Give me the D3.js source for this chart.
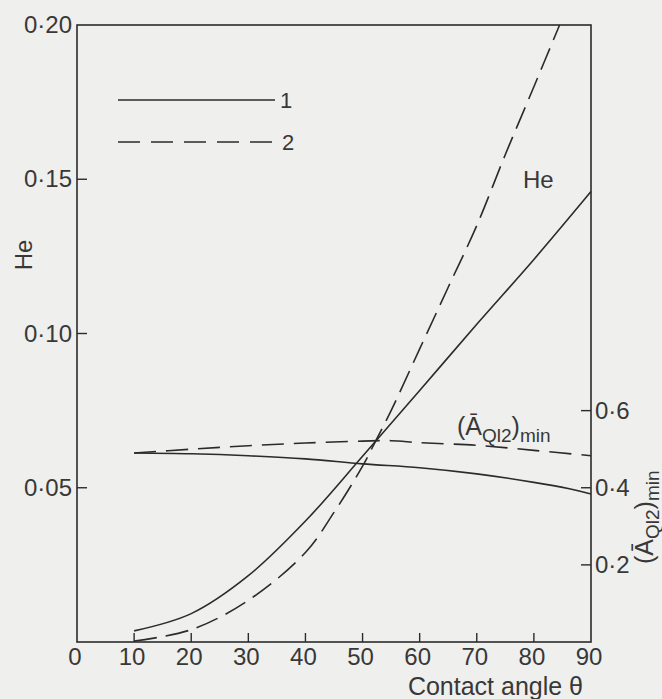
<!DOCTYPE html>
<html><head><meta charset="utf-8">
<script src="https://cdn.jsdelivr.net/npm/d3@7"></script>
<style>
html,body{margin:0;padding:0;background:#efefed;}
svg{display:block;}
text{font-family:"Liberation Sans",Arial,sans-serif;fill:#383838;}
</style></head>
<body>
<script>
// ---- data ----
const xTicks = [10,20,30,40,50,60,70,80];
const xTickLabels = ["0","10","20","30","40","50","60","70","80","90"];
const xLabelValues = [0,10,20,30,40,50,60,70,80,90];
const yLeftTicks = [0.05,0.10,0.15];
const yLeftLabelValues = [0.05,0.10,0.15,0.20];
const yLeftLabels = ["0·05","0·10","0·15","0·20"];
const yRightTicks = [0.2,0.4,0.6];
const yRightLabels = ["0·2","0·4","0·6"];

// He, case 1 (solid)
const heTheta1 = [10,20,30,40,50,60,70,80,90];
const heVal1   = [0.0036,0.0092,0.0215,0.0392,0.0602,0.0815,0.103,0.124,0.146];
// He, case 2 (dashed)
const heTheta2 = [10,20,30,40,45,50,52.2,55,60,65,70,75,80,84.5];
const heVal2   = [0.0003,0.0040,0.0135,0.029,0.042,0.057,0.0648,0.075,0.095,0.115,0.135,0.158,0.180,0.200];
// (A_Ql2)min, case 1 (solid)
const aTheta1 = [10,20,30,40,50,60,70,80,86,90];
const aVal1   = [0.490,0.488,0.483,0.475,0.462,0.452,0.436,0.414,0.398,0.384];
// (A_Ql2)min, case 2 (dashed)
const aTheta2 = [10,20,30,40,50,55,60,70,80,90];
const aVal2   = [0.490,0.500,0.509,0.516,0.521,0.522,0.517,0.510,0.497,0.483];

const W = 662, H = 699;
const svg = d3.select("body").append("svg").attr("width",W).attr("height",H);
const ink = "#2b2b2b";

const x = d3.scaleLinear().domain([0,90]).range([77,591]);
const yL = d3.scaleLinear().domain([0,0.2]).range([642,25]);
const yR = d3.scaleLinear().domain([0,1.6]).range([642,25]);

// frame
svg.append("rect").attr("x",x(0)).attr("y",yL(0.2))
  .attr("width",x(90)-x(0)).attr("height",yL(0)-yL(0.2))
  .attr("fill","none").attr("stroke",ink).attr("stroke-width",1.6);

// bottom ticks (inward)
svg.append("g").selectAll("line").data(xTicks).join("line")
  .attr("x1",d=>x(d)).attr("x2",d=>x(d)).attr("y1",yL(0)).attr("y2",yL(0)-9)
  .attr("stroke",ink).attr("stroke-width",1.4);
svg.append("g").selectAll("text").data(xLabelValues).join("text")
  .attr("x",d=>x(d)-2).attr("y",yL(0)+23).attr("text-anchor","middle")
  .attr("font-size",24).text((d,i)=>xTickLabels[i]);

// left ticks
svg.append("g").selectAll("line").data(yLeftTicks).join("line")
  .attr("x1",x(0)).attr("x2",x(0)+10).attr("y1",d=>yL(d)).attr("y2",d=>yL(d))
  .attr("stroke",ink).attr("stroke-width",1.4);
svg.append("g").selectAll("text").data(yLeftLabelValues).join("text")
  .attr("x",72).attr("y",d=>yL(d)+8).attr("text-anchor","end")
  .attr("font-size",24).text((d,i)=>yLeftLabels[i]);

// right ticks
svg.append("g").selectAll("line").data(yRightTicks).join("line")
  .attr("x1",x(90)-10).attr("x2",x(90)).attr("y1",d=>yR(d)).attr("y2",d=>yR(d))
  .attr("stroke",ink).attr("stroke-width",1.4);
svg.append("g").selectAll("text").data(yRightTicks).join("text")
  .attr("x",595).attr("y",d=>yR(d)+8).attr("text-anchor","start")
  .attr("font-size",24).text((d,i)=>yRightLabels[i]);

// axis titles
svg.append("text").attr("x",583).attr("y",695).attr("text-anchor","end")
  .attr("font-size",25).text("Contact angle θ");
svg.append("text").attr("transform","translate(32,255) rotate(-90)")
  .attr("text-anchor","middle").attr("font-size",24).text("He");
const rt = svg.append("text").attr("transform","translate(653,564) rotate(-90)")
  .attr("text-anchor","start").attr("font-size",25);
rt.append("tspan").text("(Ā");
rt.append("tspan").attr("font-size",19).attr("dy",6).text("Ql2");
rt.append("tspan").attr("dy",-6).text(")");
rt.append("tspan").attr("font-size",19).attr("dy",6).text("min");

// curves
const lineL = d3.line().x(d=>x(d[0])).y(d=>yL(d[1])).curve(d3.curveCatmullRom.alpha(0.5));
const lineR = d3.line().x(d=>x(d[0])).y(d=>yR(d[1])).curve(d3.curveCatmullRom.alpha(0.5));
const zip = (a,b)=>a.map((v,i)=>[v,b[i]]);
const g = svg.append("g").attr("fill","none").attr("stroke",ink).attr("stroke-width",1.6);
g.append("path").attr("d",lineL(zip(heTheta1,heVal1)));
g.append("path").attr("d",lineL(zip(heTheta2,heVal2))).attr("stroke-dasharray","23,9");
g.append("path").attr("d",lineR(zip(aTheta1,aVal1)));
g.append("path").attr("d",lineR(zip(aTheta2,aVal2))).attr("stroke-dasharray","22,10");

// in-plot labels
svg.append("text").attr("x",523).attr("y",188).attr("font-size",24).text("He");
const al = svg.append("text").attr("x",457).attr("y",435).attr("font-size",25);
al.append("tspan").text("(Ā");
al.append("tspan").attr("font-size",19).attr("dy",7).text("Ql2");
al.append("tspan").attr("dy",-7).text(")");
al.append("tspan").attr("font-size",19).attr("dy",7).text("min");

// legend
svg.append("line").attr("x1",118).attr("x2",275).attr("y1",100).attr("y2",100)
  .attr("stroke",ink).attr("stroke-width",1.6);
svg.append("line").attr("x1",118).attr("x2",272).attr("y1",142).attr("y2",142)
  .attr("stroke",ink).attr("stroke-width",1.6).attr("stroke-dasharray","22,11");
svg.append("text").attr("x",280).attr("y",108).attr("font-size",22).text("1");
svg.append("text").attr("x",282).attr("y",150).attr("font-size",22).text("2");
</script>
</body></html>
